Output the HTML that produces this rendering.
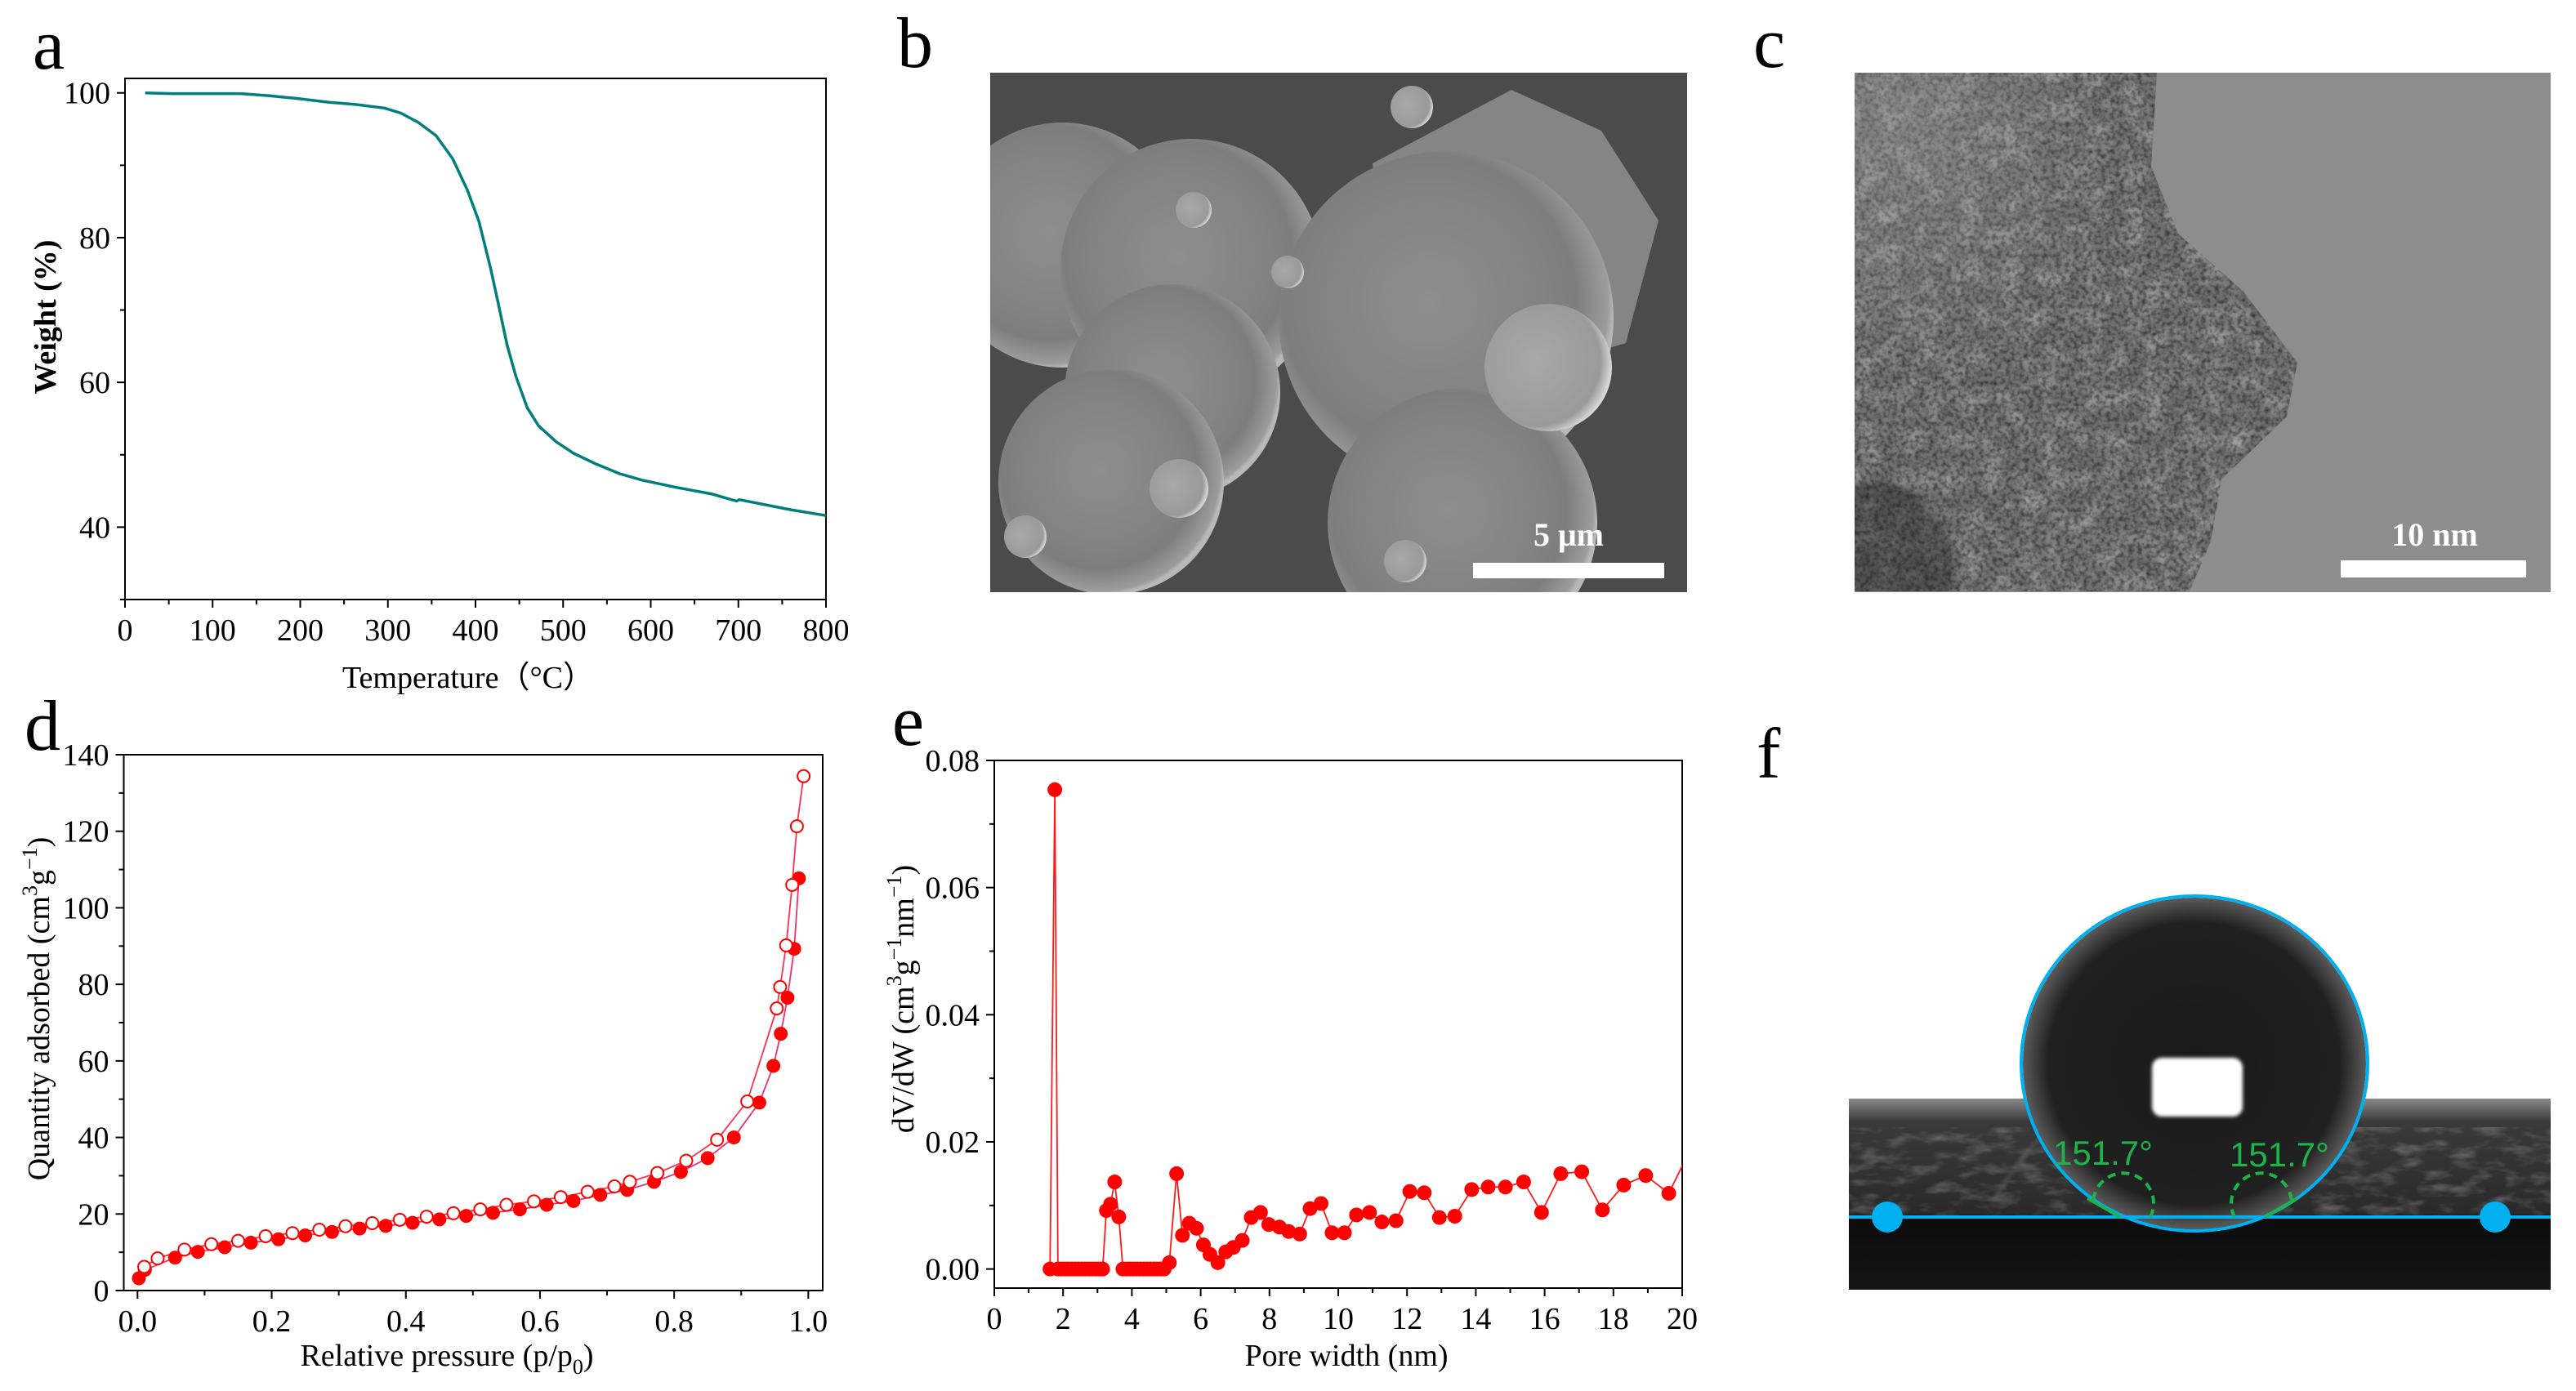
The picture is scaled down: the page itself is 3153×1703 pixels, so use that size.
<!DOCTYPE html>
<html><head><meta charset="utf-8">
<style>
html,body{margin:0;padding:0;background:#fff;}
svg{display:block;font-family:"Liberation Serif",serif;}
</style></head>
<body>
<svg id="fig" width="3153" height="1703" viewBox="0 0 3153 1703" xmlns="http://www.w3.org/2000/svg">
<defs>
  <radialGradient id="sph" cx="0.45" cy="0.45" r="0.55">
    <stop offset="0" stop-color="#8e8e8e"/><stop offset="0.8" stop-color="#7e7e7e"/><stop offset="0.97" stop-color="#9c9c9c"/><stop offset="1" stop-color="#b8b8b8"/>
  </radialGradient>
  <radialGradient id="sph2" cx="0.4" cy="0.45" r="0.6">
    <stop offset="0" stop-color="#a8a8a8"/><stop offset="0.85" stop-color="#9a9a9a"/><stop offset="1" stop-color="#d8d8d8"/>
  </radialGradient>
  <clipPath id="clipB"><rect x="1212" y="89" width="853" height="636"/></clipPath>
  <clipPath id="clipC"><path d="M2270,89 L2640,89 L2633,204 L2666,286 L2746,357 L2812,444 L2799,510 L2719,587 L2706,663 L2680,724 L2270,724 Z"/></clipPath>
  <filter id="noise" x="0" y="0" width="1" height="1">
    <feTurbulence type="fractalNoise" baseFrequency="0.18" numOctaves="2" seed="3"/>
    <feColorMatrix type="matrix" values="0 0 0 0 0  0 0 0 0 0  0 0 0 0 0  0 0 0 -1.0 0.62"/>
  </filter>
  <filter id="noise2" x="0" y="0" width="1" height="1">
    <feTurbulence type="fractalNoise" baseFrequency="0.04" numOctaves="3" seed="7"/>
    <feColorMatrix type="matrix" values="0 0 0 0 0.6  0 0 0 0 0.6  0 0 0 0 0.6  0 0 0 -1.0 0.6"/>
  </filter>
  <filter id="noise3" x="0" y="0" width="1" height="1">
    <feTurbulence type="fractalNoise" baseFrequency="0.03 0.08" numOctaves="3" seed="11"/>
    <feColorMatrix type="matrix" values="0 0 0 0 0.5  0 0 0 0 0.5  0 0 0 0 0.5  0 0 0 -1.4 0.75"/>
  </filter>
  <filter id="blur4"><feGaussianBlur stdDeviation="4"/></filter>
  <filter id="blur2"><feGaussianBlur stdDeviation="2"/></filter>
  <linearGradient id="ground" x1="0" y1="0" x2="0" y2="1">
    <stop offset="0" stop-color="#8a8a8a"/><stop offset="0.12" stop-color="#3a3a3a"/><stop offset="0.6" stop-color="#2a2a2a"/><stop offset="0.62" stop-color="#0c0c0c"/><stop offset="1" stop-color="#151515"/>
  </linearGradient>
  <radialGradient id="drop" cx="0.5" cy="0.5" r="0.5">
    <stop offset="0" stop-color="#1a1a1a"/><stop offset="0.85" stop-color="#202020"/><stop offset="1" stop-color="#5a5a5a"/>
  </radialGradient>
  <radialGradient id="temlight" cx="0.1" cy="0.1" r="0.5">
    <stop offset="0" stop-color="#aaa" stop-opacity="0.35"/><stop offset="1" stop-color="#aaa" stop-opacity="0"/>
  </radialGradient>
</defs>

<text x="40" y="84" font-size="88">a</text>
<text x="1098" y="82" font-size="88">b</text>
<text x="2146" y="82" font-size="88">c</text>
<text x="30" y="918" font-size="88">d</text>
<text x="1092" y="912" font-size="88">e</text>
<text x="2150" y="952" font-size="88">f</text>

<g clip-path="url(#clipB)">
  <rect x="1212" y="89" width="853" height="636" fill="#4b4b4b"/>
  <circle cx="1300" cy="300" r="150" fill="url(#sph)"/>
  <circle cx="1458" cy="330" r="160" fill="url(#sph)"/>
  <path d="M1680,200 L1850,110 L1960,160 L2030,270 L1990,420 L1820,470 L1700,420 Z" fill="#858585"/>
  <circle cx="1435" cy="480" r="132" fill="url(#sph)"/>
  <circle cx="1770" cy="390" r="205" fill="url(#sph)"/>
  <circle cx="1360" cy="590" r="138" fill="url(#sph)"/>
  <circle cx="1790" cy="640" r="165" fill="url(#sph)"/>
  <circle cx="1895" cy="450" r="78" fill="url(#sph2)"/>
  <circle cx="1443" cy="598" r="36" fill="url(#sph2)"/>
  <circle cx="1461" cy="257" r="22" fill="url(#sph2)"/>
  <circle cx="1728" cy="131" r="26" fill="url(#sph2)"/>
  <circle cx="1720" cy="687" r="26" fill="url(#sph2)"/>
  <circle cx="1255" cy="657" r="26" fill="url(#sph2)"/>
  <circle cx="1576" cy="333" r="20" fill="url(#sph2)"/>
</g>
<rect x="1803" y="689" width="234" height="19" fill="#fff"/>
<text x="1920" y="668" font-size="40" font-weight="bold" fill="#fff" text-anchor="middle">5 μm</text>

<g>
  <rect x="2270" y="89" width="852" height="636" fill="#8d8d8d"/>
  <g clip-path="url(#clipC)">
    <rect x="2270" y="89" width="560" height="636" fill="#707070"/>
    <rect x="2270" y="89" width="560" height="636" filter="url(#noise2)"/>
    <rect x="2270" y="89" width="560" height="636" filter="url(#noise)"/>
    <rect x="2270" y="89" width="560" height="636" fill="url(#temlight)"/>
    <ellipse cx="2300" cy="700" rx="90" ry="110" fill="#222" opacity="0.4" filter="url(#blur4)"/>
  </g>
</g>
<rect x="2865" y="686" width="227" height="21" fill="#fff"/>
<text x="2980" y="668" font-size="40" font-weight="bold" fill="#fff" text-anchor="middle">10 nm</text>

<g>
  <rect x="2263" y="1345" width="859" height="234" fill="url(#ground)"/>
  <rect x="2263" y="1380" width="859" height="108" filter="url(#noise3)" opacity="0.6"/>
  <path d="M2440,1470 Q2470,1420 2500,1390" stroke="#666" stroke-width="4" fill="none" opacity="0.5" filter="url(#blur2)"/>
  <ellipse cx="2686" cy="1302" rx="210" ry="203" fill="url(#drop)"/>
  <rect x="2634" y="1295" width="111" height="72" rx="12" fill="#fff" filter="url(#blur2)"/>
</g>
<g fill="none">
  <ellipse cx="2686" cy="1302" rx="212" ry="205" stroke="#00b0f0" stroke-width="4"/>
  <line x1="2263" y1="1490" x2="3122" y2="1490" stroke="#00b0f0" stroke-width="4"/>
  <circle cx="2310" cy="1490" r="19" fill="#00b0f0"/>
  <circle cx="3054" cy="1490" r="19" fill="#00b0f0"/>
  <path d="M2632,1490 A37,37 0 1 0 2562,1472" stroke="#1db34a" stroke-width="4" stroke-dasharray="10,7"/>
  <line x1="2595" y1="1490" x2="2555" y2="1467" stroke="#1db34a" stroke-width="4"/>
  <path d="M2735,1490 A37,37 0 1 1 2805,1472" stroke="#1db34a" stroke-width="4" stroke-dasharray="10,7"/>
  <line x1="2772" y1="1490" x2="2812" y2="1467" stroke="#1db34a" stroke-width="4"/>
</g>
<text x="2513" y="1426" font-family="Liberation Sans, sans-serif" font-size="42" fill="#1db34a">151.7°</text>
<text x="2729" y="1428" font-family="Liberation Sans, sans-serif" font-size="42" fill="#1db34a">151.7°</text>

<text x="573" y="842" font-size="38" text-anchor="middle">Temperature（°C）</text>
<text transform="translate(68,388) rotate(-90)" font-size="38" font-weight="bold" text-anchor="middle">Weight (%)</text>
<text x="547" y="1672" font-size="38" text-anchor="middle">Relative pressure (p/p<tspan dy="10" font-size="26">0</tspan><tspan dy="-10">)</tspan></text>
<text transform="translate(60,1235) rotate(-90)" font-size="38" text-anchor="middle">Quantity adsorbed (cm<tspan dy="-15" font-size="26">3</tspan><tspan dy="15">g</tspan><tspan dy="-15" font-size="26">−1</tspan><tspan dy="15">)</tspan></text>
<text x="1648" y="1672" font-size="38" text-anchor="middle">Pore width (nm)</text>
<text transform="translate(1118,1223) rotate(-90)" font-size="38" text-anchor="middle">dV/dW (cm<tspan dy="-15" font-size="26">3</tspan><tspan dy="15">g</tspan><tspan dy="-15" font-size="26">−1</tspan><tspan dy="15">nm</tspan><tspan dy="-15" font-size="26">−1</tspan><tspan dy="15">)</tspan></text>

<g id="charts"></g>
</svg>
<script>
const tgaT=[23,54,132,165,198,233,263,296,315,335,355,374,391,404,417,426,436,446,459,472,492,512,538,564,590,629,669,698,701,760,800];
const tgaW=[100,99.9,99.9,99.6,99.2,98.7,98.4,97.9,97.2,95.9,94.1,90.9,86.5,82.2,75.9,70.9,65.2,60.9,56.5,54,51.8,50.2,48.7,47.4,46.5,45.5,44.6,43.6,43.8,42.4,41.6];

const adsP=[0.002,0.011,0.056,0.09,0.13,0.169,0.21,0.25,0.29,0.331,0.37,0.41,0.45,0.49,0.53,0.57,0.61,0.65,0.69,0.73,0.77,0.81,0.85,0.889,0.927,0.948,0.959,0.969,0.979,0.986];
const adsQ=[3.2,5.4,8.6,10.1,11.3,12.5,13.4,14.4,15.3,16.2,16.9,17.7,18.6,19.5,20.3,21.2,22.4,23.4,25,26.3,28.4,31,34.6,40,49.1,58.7,67.1,76.5,89.3,107.7];
const desP=[0.993,0.983,0.976,0.967,0.958,0.953,0.909,0.864,0.818,0.775,0.734,0.711,0.671,0.631,0.591,0.55,0.511,0.471,0.431,0.391,0.35,0.31,0.271,0.231,0.191,0.15,0.11,0.07,0.03,0.01];
const desQ=[134.4,121.3,106,90.2,79.3,73.7,49.4,39.4,33.9,30.7,28.4,27.2,25.8,24.4,23.3,22.4,21.2,20.2,19.3,18.5,17.6,16.8,15.9,15,14.2,13,12.1,10.7,8.4,6.2];

const poreW=[1.62,1.76,1.85,1.95,2.05,2.15,2.25,2.35,2.45,2.55,2.65,2.75,2.85,2.95,3.05,3.15,3.26,3.38,3.5,3.62,3.74,3.84,3.94,4.04,4.14,4.24,4.34,4.44,4.54,4.64,4.74,4.84,4.94,5.09,5.3,5.47,5.67,5.88,6.08,6.27,6.5,6.73,6.95,7.21,7.47,7.74,7.98,8.29,8.56,8.88,9.18,9.5,9.82,10.18,10.53,10.91,11.27,11.68,12.08,12.5,12.94,13.39,13.88,14.36,14.86,15.39,15.91,16.47,17.08,17.68,18.3,18.94,19.61,20.3];
const poreV=[0,0.0754,0,0,0,0,0,0,0,0,0,0,0,0,0,0,0.0092,0.0102,0.0137,0.0082,0,0,0,0,0,0,0,0,0,0,0,0,0,0.001,0.015,0.0053,0.0072,0.0064,0.0038,0.0023,0.001,0.0027,0.0034,0.0045,0.0081,0.0089,0.007,0.0066,0.0059,0.0055,0.0095,0.0103,0.0057,0.0057,0.0085,0.0089,0.0074,0.0076,0.0122,0.012,0.0081,0.0083,0.0125,0.0129,0.0129,0.0137,0.0089,0.015,0.0153,0.0093,0.0132,0.0147,0.0119,0.0195];

const tgaXTicks=[0,100,200,300,400,500,600,700,800];
const tgaYTicks=[40,60,80,100];
const betXTicks=[0,0.2,0.4,0.6,0.8,1.0];
const betYTicks=[0,20,40,60,80,100,120,140];
const poreXTicks=[0,2,4,6,8,10,12,14,16,18,20];
const poreYTicks=[0,0.02,0.04,0.06,0.08];

const NS='http://www.w3.org/2000/svg';
const root=document.getElementById('charts');
function mk(tag,attrs,parent){const e=document.createElementNS(NS,tag);for(const k in attrs)e.setAttribute(k,attrs[k]);parent.appendChild(e);return e;}

function makeScales(P){
  return {x:v=>P.l+(v-P.x0)/(P.x1-P.x0)*(P.r-P.l), y:v=>P.b-(v-P.y0)/(P.y1-P.y0)*(P.b-P.t)};
}
function drawAxes(g,P,S,xt,xminor,yt,yminor,xf,yf,key){
  const box=mk('rect',{x:P.l,y:P.t,width:P.r-P.l,height:P.b-P.t,fill:'none',stroke:'#000','stroke-width':2},g);
  
  
  xt.forEach(v=>{
    const X=S.x(v);
    const t=mk('line',{x1:X,y1:P.b,x2:X,y2:P.b+10,stroke:'#000','stroke-width':2},g);
    
    
    const l=mk('text',{x:X,y:P.b+50,'font-size':38,'text-anchor':'middle'},g);
    l.textContent=xf(v);
    
    
  });
  xminor.forEach(v=>{
    const X=S.x(v);
    const t=mk('line',{x1:X,y1:P.b,x2:X,y2:P.b+6,stroke:'#000','stroke-width':2},g);
    
    
  });
  yt.forEach(v=>{
    const Y=S.y(v);
    const t=mk('line',{x1:P.l-10,y1:Y,x2:P.l,y2:Y,stroke:'#000','stroke-width':2},g);
    
    
    const l=mk('text',{x:P.l-18,y:Y+13,'font-size':38,'text-anchor':'end'},g);
    l.textContent=yf(v);
    
    
  });
  yminor.forEach(v=>{
    const Y=S.y(v);
    const t=mk('line',{x1:P.l-6,y1:Y,x2:P.l,y2:Y,stroke:'#000','stroke-width':2},g);
    
    
  });
}
function pathFrom(xs,ys,S){return xs.map((v,i)=>(i?'L':'M')+S.x(v).toFixed(1)+','+S.y(ys[i]).toFixed(1)).join(' ');}
function mids(t){const r=[];for(let i=0;i<t.length-1;i++)r.push((t[i]+t[i+1])/2);return r;}

const Pa={l:153,r:1011,t:96,b:734,x0:0,x1:800,y0:30,y1:102};
const Sa=makeScales(Pa);
const ga=mk('g',{},root);


drawAxes(ga,Pa,Sa,tgaXTicks,mids(tgaXTicks),tgaYTicks,[30,50,70,90],v=>String(v),v=>String(v),'tga');
const la=mk('path',{d:pathFrom(tgaT,tgaW,Sa),fill:'none',stroke:'#007f7e','stroke-width':3.5,'stroke-linejoin':'round'},ga);



const Pd={l:151.5,r:1007,t:924,b:1580,x0:-0.0205,x1:1.0215,y0:0,y1:140};
const Sd=makeScales(Pd);
const gd=mk('g',{},root);


drawAxes(gd,Pd,Sd,betXTicks,mids(betXTicks),betYTicks,mids(betYTicks),v=>v.toFixed(1),v=>String(v),'isotherm');
const lad=mk('path',{d:pathFrom(adsP,adsQ,Sd),fill:'none',stroke:'#f0306a','stroke-width':1.8},gd);


const ldd=mk('path',{d:pathFrom(desP,desQ,Sd),fill:'none',stroke:'#ff3050','stroke-width':1.8},gd);


adsP.forEach((p,i)=>{
  const c=mk('circle',{cx:Sd.x(p),cy:Sd.y(adsQ[i]),r:8.5,fill:'#ff0000'},gd);
  
  
});
desP.forEach((p,i)=>{
  const c=mk('circle',{cx:Sd.x(p),cy:Sd.y(desQ[i]),r:7.5,fill:'#fff',stroke:'#ff0000','stroke-width':2},gd);
  
  
});

const Pe={l:1217,r:2059,t:931,b:1577,x0:0,x1:20,y0:-0.003,y1:0.08};
const Se=makeScales(Pe);
const ge=mk('g',{},root);


drawAxes(ge,Pe,Se,poreXTicks,mids(poreXTicks),poreYTicks,mids(poreYTicks),v=>String(v),v=>v.toFixed(2),'pore');
const cp=mk('clipPath',{id:'clipE'},ge);
mk('rect',{x:Pe.l,y:Pe.t,width:Pe.r-Pe.l,height:Pe.b-Pe.t},cp);
const le=mk('path',{d:pathFrom(poreW,poreV,Se),fill:'none',stroke:'#ff1a1a','stroke-width':1.8,'clip-path':'url(#clipE)'},ge);


poreW.forEach((w,i)=>{
  if(w>Pe.x1)return;
  const c=mk('circle',{cx:Se.x(w),cy:Se.y(poreV[i]),r:9,fill:'#ff0000'},ge);
  
  
});
</script>
</body></html>
